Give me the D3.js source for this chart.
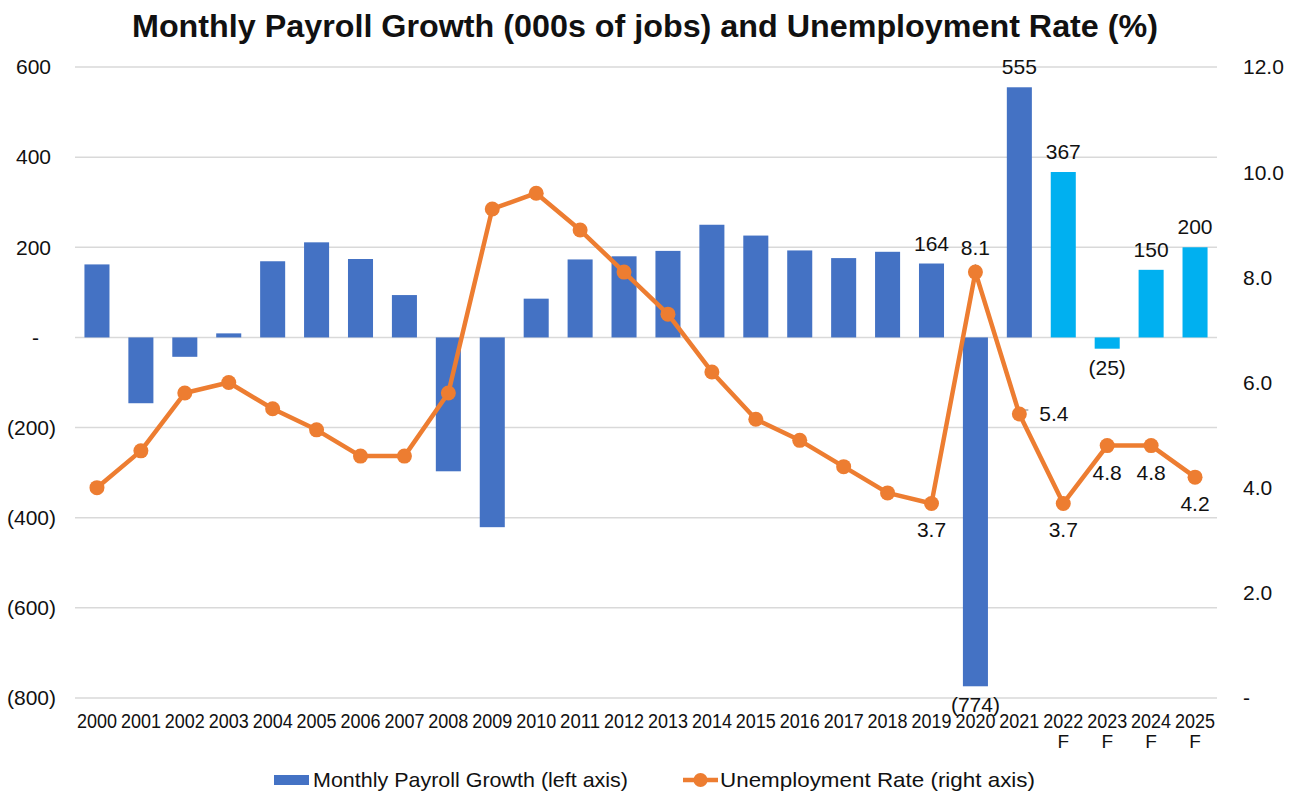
<!DOCTYPE html>
<html>
<head>
<meta charset="utf-8">
<script src="https://cdn.jsdelivr.net/npm/d3@7"></script>
<style>
  body { margin: 0; background: #fff; }
  svg text { font-family: "Liberation Sans", Arial, sans-serif; fill: #111; }
</style>
</head>
<body>
<svg id="chart" width="1299" height="794"></svg>
<script>

// categories
var years = ['2000','2001','2002','2003','2004','2005','2006','2007','2008','2009','2010','2011','2012',
             '2013','2014','2015','2016','2017','2018','2019','2020','2021','2022','2023','2024','2025']
var forecast = ['2022','2023','2024','2025']

// monthly payroll growth, 000s of jobs (left axis)
var payroll = [162, -146, -43, 9, 169, 211, 174, 94, -297, -421, 86, 173, 180,
               192, 250, 226, 193, 176, 190, 164, -774, 555, 367, -25, 150, 200]

// unemployment rate % (right axis)
var unemp = [4.0, 4.7, 5.8, 6.0, 5.5, 5.1, 4.6, 4.6, 5.8, 9.3, 9.6, 8.9, 8.1,
             7.3, 6.2, 5.3, 4.9, 4.4, 3.9, 3.7, 8.1, 5.4, 3.7, 4.8, 4.8, 4.2]

var leftTicks = [-800, -600, -400, -200, 0, 200, 400, 600]
var rightTicks = [0, 2, 4, 6, 8, 10, 12]

// which points get labels
var barLabelYears = ['2019','2020','2021','2022','2023','2024','2025']
var lineLabelPos = {'2019':'below','2020':'above','2021':'right','2022':'below','2023':'below','2024':'below','2025':'below'}

var blue = '#4472C4', lightBlue = '#00B0F0', orange = '#ED7D31'

var svg = d3.select('#chart')

var x = d3.scaleBand()
    .domain(years)
    .range([75, 1217])
    .paddingInner(0.43)
    .paddingOuter(0.215)

var yLeft = d3.scaleLinear().domain([-800, 600]).range([698, 67])
var yRight = d3.scaleLinear().domain([0, 12]).range([698, 67])

function acct(v) {
    if (v === 0) return '-'
    if (v < 0) return '(' + d3.format(',')(-v) + ')'
    return d3.format(',')(v)
}

// title
svg.append('text')
    .attr('x', 645)
    .attr('y', 37)
    .attr('text-anchor', 'middle')
    .attr('textLength', 1026)
    .attr('lengthAdjust', 'spacingAndGlyphs')
    .style('font-size', '31px')
    .style('font-weight', 'bold')
    .text('Monthly Payroll Growth (000s of jobs) and Unemployment Rate (%)')

// gridlines
svg.append('g').selectAll('line')
    .data(leftTicks)
    .enter().append('line')
    .attr('x1', 75).attr('x2', 1217)
    .attr('y1', function(d) { return yLeft(d) })
    .attr('y2', function(d) { return yLeft(d) })
    .style('stroke', '#d9d9d9')
    .style('stroke-width', 1.5)

// left axis labels (accounting style)
svg.append('g').selectAll('text')
    .data(leftTicks)
    .enter().append('text')
    .attr('x', function(d) { return d < 0 ? 56 : (d === 0 ? 39 : 51) })
    .attr('y', function(d) { return yLeft(d) })
    .attr('dy', '0.35em')
    .attr('text-anchor', 'end')
    .style('font-size', '21px')
    .text(acct)

// right axis labels
svg.append('g').selectAll('text')
    .data(rightTicks)
    .enter().append('text')
    .attr('x', 1243)
    .attr('y', function(d) { return yRight(d) })
    .attr('dy', '0.35em')
    .style('font-size', '21px')
    .text(function(d) { return d === 0 ? '-' : d3.format('.1f')(d) })

// x axis labels
var xl = svg.append('g').selectAll('g')
    .data(years)
    .enter().append('g')
    .attr('transform', function(d) { return 'translate(' + (x(d) + x.bandwidth() / 2) + ',0)' })

xl.append('text')
    .attr('y', 728)
    .attr('text-anchor', 'middle')
    .attr('textLength', 40)
    .attr('lengthAdjust', 'spacingAndGlyphs')
    .style('font-size', '20px')
    .text(function(d) { return d })

xl.filter(function(d) { return forecast.indexOf(d) > -1 })
    .append('text')
    .attr('y', 748)
    .attr('text-anchor', 'middle')
    .style('font-size', '19px')
    .text('F')

// bars
var barData = years.map(function(y, i) { return {year: y, value: payroll[i]} })

svg.append('g').selectAll('rect')
    .data(barData)
    .enter().append('rect')
    .attr('x', function(d) { return x(d.year) })
    .attr('width', x.bandwidth())
    .attr('y', function(d) { return yLeft(Math.max(0, d.value)) })
    .attr('height', function(d) { return Math.abs(yLeft(d.value) - yLeft(0)) })
    .style('fill', function(d) { return forecast.indexOf(d.year) > -1 ? lightBlue : blue })

// bar labels
svg.append('g').selectAll('text')
    .data(barData.filter(function(d) { return barLabelYears.indexOf(d.year) > -1 }))
    .enter().append('text')
    .attr('x', function(d) { return x(d.year) + x.bandwidth() / 2 })
    .attr('y', function(d) { return d.value < 0 ? yLeft(d.value) + 26 : yLeft(d.value) - 13 })
    .attr('text-anchor', 'middle')
    .style('font-size', '21px')
    .text(function(d) { return acct(d.value) })

// unemployment line
var lineData = years.map(function(y, i) { return {year: y, value: unemp[i]} })
var cx = function(d) { return x(d.year) + x.bandwidth() / 2 }

var line = d3.line()
    .x(cx)
    .y(function(d) { return yRight(d.value) })

// little leader lines excel drew for two labels
var p20 = lineData[20], p21 = lineData[21]
svg.append('path')
    .attr('d', 'M' + cx(p20) + ',' + (yRight(p20.value) - 8) + 'V' + (yRight(p20.value)))
    .style('stroke', '#a6a6a6').style('stroke-width', 1.5).style('fill', 'none')
svg.append('path')
    .attr('d', 'M' + (cx(p21) + 2) + ',' + (yRight(p21.value) + 2) + 'V' + (yRight(p21.value) - 4) + 'H' + (cx(p21) + 9))
    .style('stroke', '#a6a6a6').style('stroke-width', 1.5).style('fill', 'none')

svg.append('path')
    .datum(lineData)
    .attr('d', line)
    .style('fill', 'none')
    .style('stroke', orange)
    .style('stroke-width', 4.5)
    .style('stroke-linejoin', 'round')

svg.append('g').selectAll('circle')
    .data(lineData)
    .enter().append('circle')
    .attr('cx', cx)
    .attr('cy', function(d) { return yRight(d.value) })
    .attr('r', 7.5)
    .style('fill', orange)

// line labels
svg.append('g').selectAll('text')
    .data(lineData.filter(function(d) { return lineLabelPos[d.year] }))
    .enter().append('text')
    .attr('x', function(d) { return lineLabelPos[d.year] === 'right' ? cx(d) + 20 : cx(d) })
    .attr('y', function(d) {
        var pos = lineLabelPos[d.year], py = yRight(d.value)
        if (pos === 'below') return py + 34
        if (pos === 'above') return py - 17
        return py + 7
    })
    .attr('text-anchor', function(d) { return lineLabelPos[d.year] === 'right' ? 'start' : 'middle' })
    .style('font-size', '21px')
    .text(function(d) { return d3.format('.1f')(d.value) })

// legend
var leg = svg.append('g')
leg.append('rect')
    .attr('x', 274).attr('y', 775).attr('width', 35).attr('height', 10)
    .style('fill', blue)
leg.append('text')
    .attr('x', 313).attr('y', 780).attr('dy', '0.35em')
    .attr('textLength', 315)
    .attr('lengthAdjust', 'spacingAndGlyphs')
    .style('font-size', '21px')
    .text('Monthly Payroll Growth (left axis)')
leg.append('line')
    .attr('x1', 683).attr('x2', 718).attr('y1', 780).attr('y2', 780)
    .style('stroke', orange).style('stroke-width', 4.5)
leg.append('circle')
    .attr('cx', 700.5).attr('cy', 780).attr('r', 7)
    .style('fill', orange)
leg.append('text')
    .attr('x', 720).attr('y', 780).attr('dy', '0.35em')
    .attr('textLength', 315)
    .attr('lengthAdjust', 'spacingAndGlyphs')
    .style('font-size', '21px')
    .text('Unemployment Rate (right axis)')

</script>
</body>
</html>
